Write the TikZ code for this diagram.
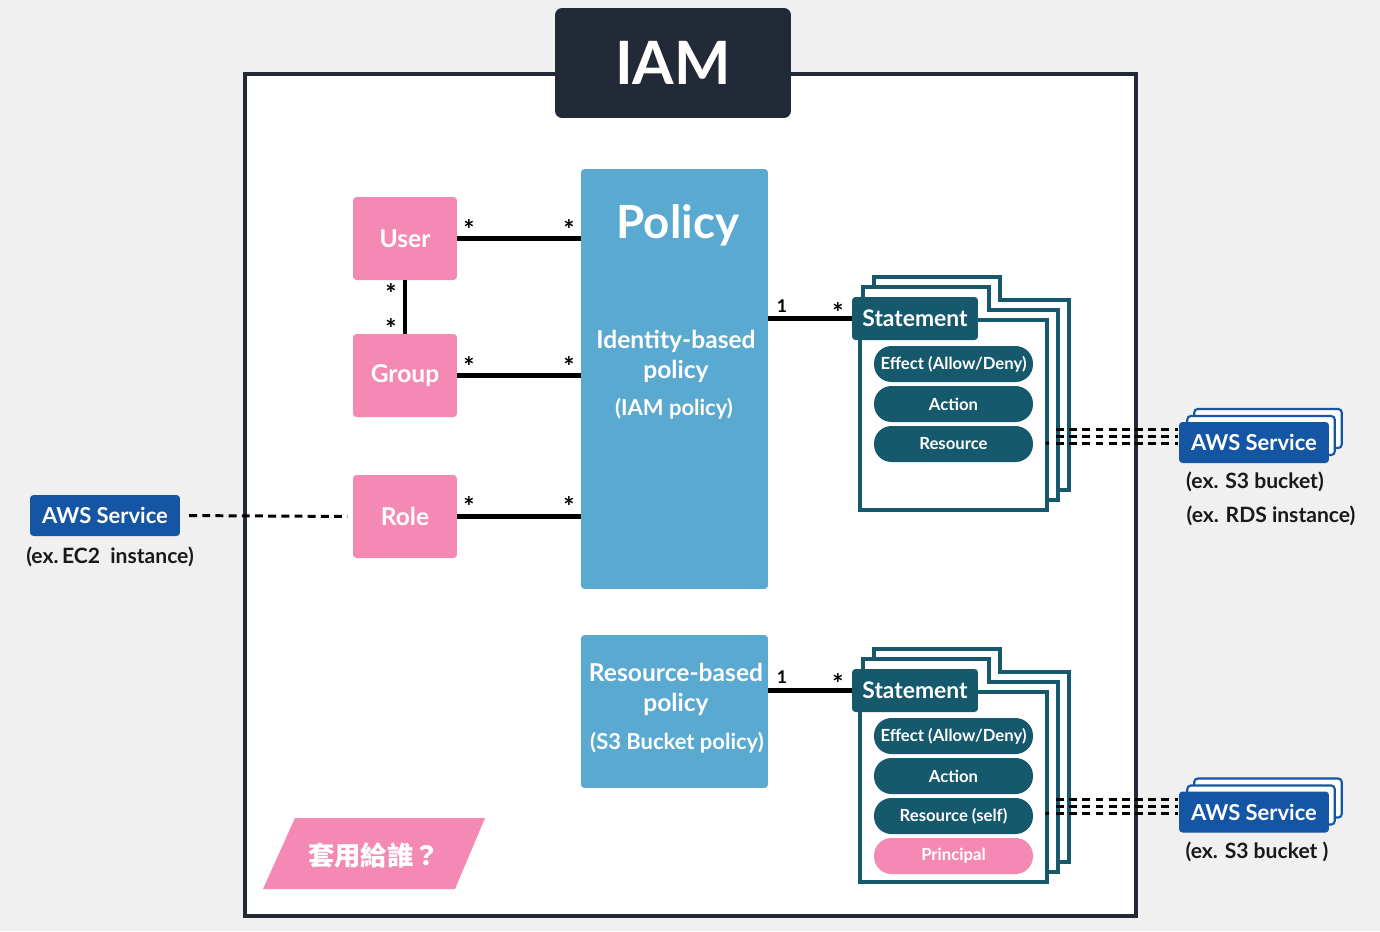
\documentclass[tikz,border=0pt]{standalone}
\usepackage{fontspec}
\setmainfont{Lato}
\newfontfamily\cjk{Noto Sans CJK TC}
\usetikzlibrary{positioning}

\definecolor{bggray}{HTML}{F0F0F0}
\definecolor{framedark}{HTML}{222A38}
\definecolor{pinkc}{HTML}{F48AB3}
\definecolor{policyblue}{HTML}{5AA9D0}
\definecolor{tealc}{HTML}{16596D}
\definecolor{awsblue}{HTML}{1556A4}

\begin{document}
\begin{tikzpicture}[x=0.02cm,y=-0.02cm,
  pinkbox/.style={fill=pinkc, text=white, rounded corners=2pt, minimum width=2.08cm, minimum height=1.66cm, font=\fontsize{14}{16}\selectfont\bfseries},
  policybox/.style={fill=policyblue, rounded corners=2pt, minimum width=3.74cm},
  whitetxt/.style={text=white, align=center, font=\fontsize{14}{17}\selectfont\bfseries},
  link/.style={line width=2.3pt},
  starlbl/.style={font=\fontsize{10}{10}\selectfont\bfseries, inner sep=0pt},
  starbig/.style={font=\fontsize{15}{15}\selectfont\bfseries, inner sep=0pt},
  page/.style={fill=white, draw=tealc, line width=1.8pt},
  tab/.style={fill=tealc, text=white, rounded corners=2pt, minimum width=2.52cm, minimum height=0.86cm, font=\fontsize{13}{15}\selectfont\bfseries},
  pill/.style={fill=tealc, text=white, rounded corners=0.35cm, minimum width=3.18cm, minimum height=0.72cm, font=\fontsize{9.5}{11}\selectfont\bfseries},
  awsbox/.style={fill=awsblue, text=white, rounded corners=2pt, minimum width=3cm, minimum height=0.82cm, font=\fontsize{12.5}{14}\selectfont\bfseries},
  awsback/.style={fill=white, draw=awsblue, line width=1.2pt, rounded corners=2pt, minimum width=2.95cm, minimum height=0.78cm},
  extxt/.style={font=\fontsize{12}{14}\selectfont\bfseries, text=black!90},
  dashline/.style={dash pattern=on 4.5pt off 3pt, line width=1.7pt}]

\useasboundingbox (0,0) rectangle (1380,931);
\fill[bggray] (0,0) rectangle (1380,931);

%big frame
\filldraw[fill=white, draw=framedark, line width=2.8pt] (245,74) rectangle (1136,916);

%title
\node[fill=framedark, text=white, rounded corners=4pt, minimum width=4.72cm, minimum height=2.2cm, font=\fontsize{34}{36}\selectfont\bfseries] (iam) at (673,63) {IAM};

%identities
\node[pinkbox] (user) at (405,238.5) {User};
\node[pinkbox] (group) at (405,375.5) {Group};
\node[pinkbox] (role) at (405,516.5) {Role};

%policies
\node[policybox, minimum height=8.4cm] (policy) at (674.5,379) {};
\node[whitetxt, font=\fontsize{26}{30}\selectfont\bfseries] (policyttl) at (678,225) {Policy};
\node[whitetxt] (policysub) at (676,356) {Identity-based\\policy};
\node[whitetxt, font=\fontsize{12.5}{15}\selectfont\bfseries] (policynote) at (674,409) {(IAM policy)};

\node[policybox, minimum height=3.06cm] (rbpolicy) at (674.5,711.5) {};
\node[whitetxt] (rbsub) at (676,689) {Resource-based\\policy};
\node[whitetxt, font=\fontsize{12.5}{15}\selectfont\bfseries] (rbnote) at (677,743) {(S3 Bucket policy)};

%identity links
\draw[link] (user.east) -- (user.east -| policy.west);
\draw[link] (group.east) -- (group.east -| policy.west);
\draw[link] (role.east) -- (role.east -| policy.west);
\draw[link] (user.south) -- (group.north);

%multiplicities
\node[starbig] (s1) at (469,230) {*};
\node[starbig] (s2) at (569,230) {*};
\node[starbig] (s3) at (469,367) {*};
\node[starbig] (s4) at (569,367) {*};
\node[starbig] (s5) at (469,506) {*};
\node[starbig] (s6) at (569,506) {*};
\node[starbig] (s7) at (391,294) {*};
\node[starbig] (s8) at (391,329) {*};

%statement pages
\foreach \s in {0,372}{
  \foreach \k in {2,1}{
    \filldraw[page, shift={(11*\k,\s-10*\k)}] (852,297) -- (978,297) -- (978,320) -- (1047,320) -- (1047,510) -- (860,510) -- (860,340) -- (852,340) -- cycle;
  }
  \filldraw[page, shift={(0,\s)}] (860,320) rectangle (1047,510);
}

%statements (identity)
\node[tab] (stmt1) at (915,318.5) {Statement};
\node[pill] (eff1) at (953.5,364) {Effect (Allow/Deny)};
\node[pill] (act1) at (953.5,404) {Action};
\node[pill] (res1) at (953.5,444) {Resource};

%statements (resource)
\node[tab] (stmt2) at (915,690.5) {Statement};
\node[pill] (eff2) at (953.5,736) {Effect (Allow/Deny)};
\node[pill] (act2) at (953.5,776) {Action};
\node[pill] (res2) at (953.5,816) {Resource (self)};
\node[pill, fill=pinkc] (prin2) at (953.5,856) {Principal};

%policy to statement
\draw[link] (stmt1.west -| policy.east) -- (stmt1.west);
\draw[link] (stmt2.west -| rbpolicy.east) -- (stmt2.west);
\node[starlbl] (n1) at (782,306) {1};
\node[starbig] (m1) at (838,313) {*};
\node[starlbl] (n2) at (782,677) {1};
\node[starbig] (m2) at (838,683) {*};

%aws services right
\foreach \k in {2,1}{
  \node[awsback] (awsA\k) at (1254+7*\k,442.5-7*\k) {};
  \node[awsback] (awsB\k) at (1254+7*\k,812-7*\k) {};
}
\node[awsbox] (aws1) at (1254,442.5) {AWS Service};
\node[awsbox] (aws2) at (1254,812) {AWS Service};
\node[extxt] (ex1) at (1255,482) {(ex. S3 bucket)};
\node[extxt] (ex2) at (1271,516) {(ex. RDS instance)};
\node[extxt] (ex3) at (1257,852) {(ex. S3 bucket )};

%dashed service links
\coordinate (fanA) at (1049,443);
\coordinate (fanB) at (1049,813);
\draw[line width=1.7pt, shorten <=7pt] (res1.east) -- (fanA);
\draw[line width=1.7pt, shorten <=7pt] (res2.east) -- (fanB);
\foreach \i/\dy in {1/-14,2/-7,3/0}{
  \coordinate (splitA\i) at (1056,443+\dy);
  \coordinate (svcA\i) at (1178,443+\dy);
  \coordinate (splitB\i) at (1056,813+\dy);
  \coordinate (svcB\i) at (1178,813+\dy);
  \draw[dashline] (splitA\i) -- (svcA\i);
  \draw[dashline] (splitB\i) -- (svcB\i);
}

%aws service left
\node[awsbox] (awsL) at (105,515.5) {AWS Service};
\node[extxt] (exL) at (110,557) {(ex.\,EC2\ \ instance)};
\draw[dashline, shorten <=5pt, shorten >=3pt] (awsL.east) -- (role.west);

%question
\fill[pinkc] (295,818) -- (485,818) -- (455,889) -- (263,889) -- cycle;
\node[text=white, font=\fontsize{15}{18}\selectfont\cjk\bfseries] (who) at (374,855) {套用給誰？};

\end{tikzpicture}
\end{document}
